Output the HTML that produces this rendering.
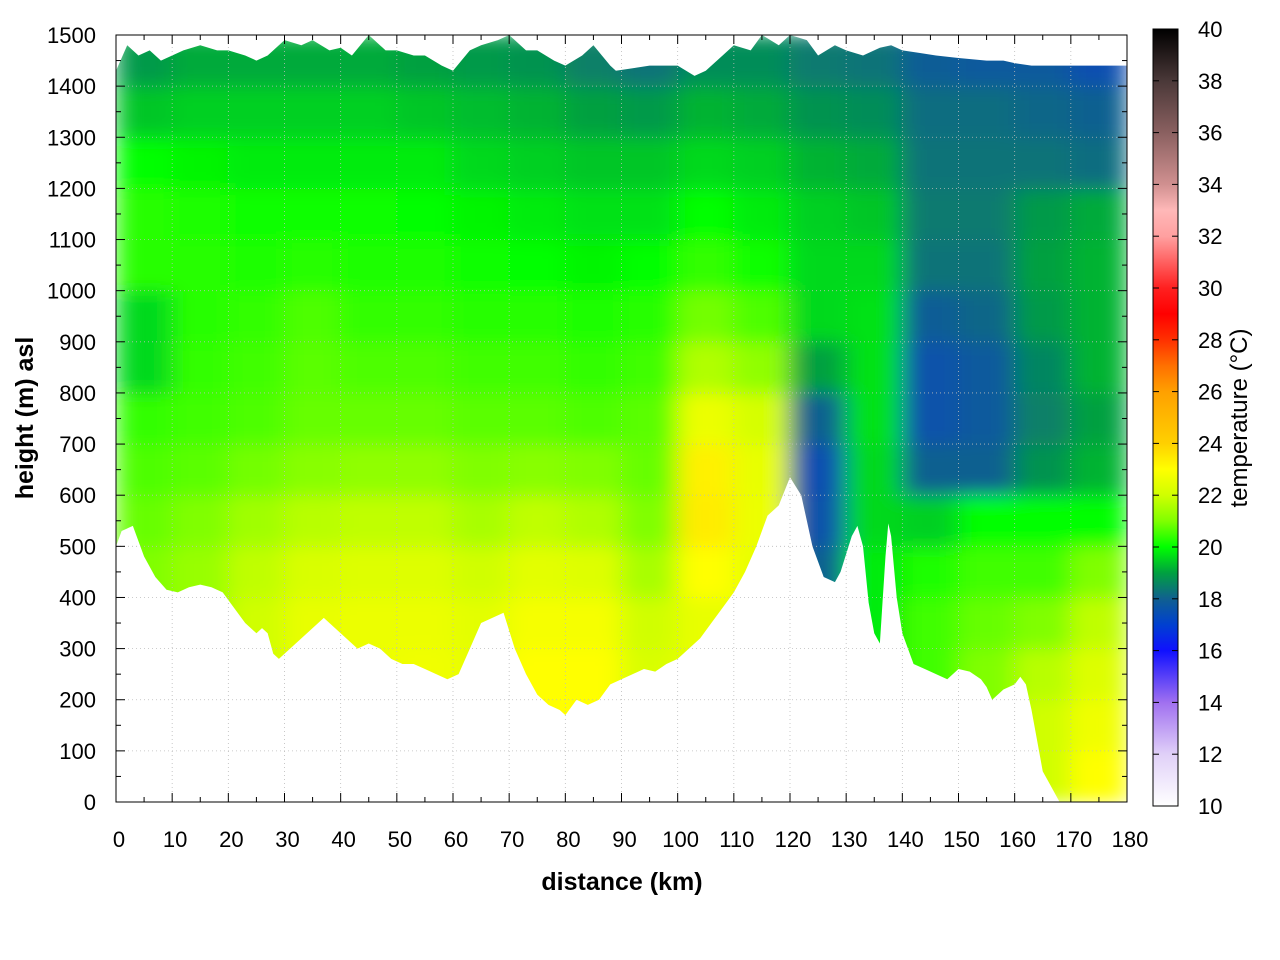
<!DOCTYPE html>
<html><head><meta charset="utf-8">
<style>
html,body{margin:0;padding:0;background:#fff;}
svg{display:block;font-family:"Liberation Sans",sans-serif;}
</style></head>
<body>
<svg id="chart" width="1280" height="960" viewBox="0 0 1280 960">
<defs>
<clipPath id="plotclip"><rect x="116" y="35" width="1011" height="767"/></clipPath>
<filter id="blur" filterUnits="userSpaceOnUse" x="116" y="35" width="1011" height="767">
<feGaussianBlur stdDeviation="12 9" edgeMode="duplicate"/>
</filter>
<linearGradient id="cbgrad" x1="0" y1="1" x2="0" y2="0"></linearGradient>
</defs>
<g id="heat" clip-path="url(#plotclip)"><g id="cells" filter="url(#blur)"></g></g>
<g id="masks" clip-path="url(#plotclip)"></g>
<g id="grid"></g>
<rect x="116" y="35" width="1011" height="767" fill="none" stroke="#000" stroke-width="1"/>
<g id="axes"></g>
<text x="622" y="890" text-anchor="middle" font-size="25" font-weight="bold">distance (km)</text>
<text transform="translate(33,418) rotate(-90)" text-anchor="middle" font-size="25" font-weight="bold">height (m) asl</text>
<rect x="1153" y="29" width="25" height="777" fill="url(#cbgrad)" stroke="#000" stroke-width="1"/>
<g id="cbaxis"></g>
<text transform="translate(1247,418) rotate(-90)" text-anchor="middle" font-size="24">temperature (°C)</text>
</svg>
<script>
// column centres (km) and row bottoms (m)
const colKm = [5,15,25,35,45,55,65,75,85,95,105,115,125,135,145,155,165,175];
const rowM = [0,100,200,300,400,500,600,700,800,900,1000,1100,1200,1300,1400];
// temperatures per column, rows bottom (0 m) to top (1400 m)
const temps = [
 [21,21,21,21,21,20.8,20.6,20.4,19.6,19.6,20.3,20.3,20,19.4,18.9],
 [21.3,21.3,21.3,21.3,21.3,21,20.7,20.5,20.4,20.3,20.3,20.2,19.9,19.5,19.1],
 [22,22,22,22,21.8,21.4,20.9,20.6,20.5,20.4,20.2,20.1,19.8,19.5,19.1],
 [22.6,22.6,22.6,22.5,22.2,21.7,21.1,20.8,20.7,20.6,20.3,20.1,19.8,19.5,19.1],
 [22.6,22.6,22.6,22.6,22.3,21.8,21.2,20.8,20.6,20.4,20.2,20.1,19.8,19.5,19.1],
 [22.7,22.7,22.7,22.6,22.3,21.8,21.2,20.8,20.6,20.4,20.2,20,19.8,19.4,19],
 [22.5,22.5,22.5,22.4,22,21.5,21,20.7,20.5,20.3,20.1,19.9,19.6,19.3,18.9],
 [23,23,23,22.8,22.4,21.8,21.1,20.7,20.5,20.3,20,19.8,19.5,19.2,18.8],
 [23,23,23,22.8,22.3,21.6,21,20.6,20.4,20.2,19.9,19.7,19.4,19,18.5],
 [22.2,22.2,22.2,22,21.5,21,20.8,20.7,20.5,20.3,20,19.7,19.4,18.9,18.3],
 [22.5,22.5,22.5,22.5,23,23.4,23.3,22.6,21.6,20.9,20.4,20,19.6,19.2,18.7],
 [22.5,22.5,22.5,22.5,22.5,22.6,22.5,22.1,21.2,20.6,20.1,19.8,19.5,19.1,18.7],
 [18,18,18,18,18,17.6,17.5,18,19,19.6,19.6,19.5,19.2,18.8,18.4],
 [19.8,19.8,19.8,19.8,19.8,19.6,19.6,19.7,19.7,19.7,19.6,19.4,19.1,18.7,18.3],
 [20.5,20.5,20.5,20.5,20.2,19.5,18,17.6,17.6,17.9,18.3,18.4,18.3,18.2,17.9],
 [21,21,21,20.8,20.5,20,18,17.8,17.8,18.1,18.3,18.4,18.3,18.2,17.8],
 [22,22,21.7,21,20.5,20,18.8,18.5,18.6,18.9,19,18.9,18.3,18.1,17.8],
 [23,22.7,22.3,21.8,21,20,19.2,19,19.2,19.2,19.2,19.1,18.2,18,17.5]
];
// terrain profile
const terrainKm = [0,1,3,5,7,9,11,13,15,17,19,21,23,25,26,27,28,29,31,33,35,37,39,41,43,45,47,49,51,53,55,57,59,61,63,65,67,69,71,73,75,77,79,80,82,84,86,88,90,92,94,96,98,100,102,104,106,108,110,112,114,116,118,120,122,124,126,128,129,131,132,133,134,135,136,137,137.5,138,139,140,142,144,146,148,150,152,154,155,156,157,158,160,161,162,163,164,165,166,168,180];
const terrainM = [500,530,540,480,440,415,410,420,425,420,410,380,350,330,340,330,290,280,300,320,340,360,340,320,300,310,300,280,270,270,260,250,240,250,300,350,360,370,300,250,210,190,180,170,200,190,200,230,240,250,260,255,270,280,300,320,350,380,410,450,500,560,580,635,600,500,440,430,450,520,540,500,390,330,310,480,545,520,400,330,270,260,250,240,260,255,240,225,200,210,220,230,245,230,180,120,60,40,0,0];
// upper data boundary
const topKm = [0,2,4,6,8,10,12,15,18,20,23,25,27,30,33,35,38,40,42,45,48,50,53,55,58,60,63,65,68,70,73,75,78,80,83,85,88,89,95,97,100,103,105,108,110,113,115,118,120,123,125,128,130,133,136,138,140,143,146,150,155,158,160,163,165,166,180];
const topM = [1430,1480,1460,1470,1450,1460,1470,1480,1470,1470,1460,1450,1460,1490,1480,1490,1470,1475,1460,1500,1470,1470,1460,1460,1440,1430,1470,1480,1490,1500,1470,1470,1450,1440,1460,1480,1440,1430,1440,1440,1440,1420,1430,1460,1480,1470,1500,1480,1500,1490,1460,1480,1470,1460,1475,1480,1470,1465,1460,1455,1450,1450,1445,1440,1440,1440,1440];
const xTicks = [0,10,20,30,40,50,60,70,80,90,100,110,120,130,140,150,160,170,180];
const yTicks = [0,100,200,300,400,500,600,700,800,900,1000,1100,1200,1300,1400,1500];
const cbTicks = [10,12,14,16,18,20,22,24,26,28,30,32,34,36,38,40];

const NS='http://www.w3.org/2000/svg';
const X0=116,X1=1127,Y0=802,Y1=35;
const xs = km => X0 + km/180*(X1-X0);
const ys = m => Y0 - m/1500*(Y0-Y1);
const cbY = t => 806 - (t-10)/30*777;
const palT=[10,12,14,16,17,18,19,20,21,22,23,24,26,27,28,29,30,31,32,33,34,36,38,40];
const palC=['#ffffff','#e0d0f8','#a070f0','#1010ff','#0040d0','#106090','#00a040','#00ff00','#80ff00','#d0ff00','#ffff00','#ffd000','#ffa000','#ff7000','#ff3000','#ff0000','#ff2020','#ff6060','#ffa0a0','#ffb8b8','#d09090','#8a6060','#4a3838','#000000'];
function hex(c){return [1,3,5].map(i=>parseInt(c.substr(i,2),16));}
function color(t){
 for(let i=0;i<palT.length-1;i++){ if(t<=palT[i+1]){ const f=Math.max(0,(t-palT[i])/(palT[i+1]-palT[i])); const a=hex(palC[i]),b=hex(palC[i+1]); return 'rgb('+a.map((v,k)=>Math.round(v+(b[k]-v)*f)).join(',')+')';}}
 return palC[palC.length-1];
}
function mk(tag,attrs,parent){const e=document.createElementNS(NS,tag);for(const k in attrs)e.setAttribute(k,attrs[k]);parent.appendChild(e);return e;}

const cells=document.getElementById('cells');
colKm.forEach((c,i)=>{
 rowM.forEach((r,j)=>{
  const x=xs(c-5), w=xs(c+5)-x, y=ys(r+100), h=ys(r)-y;
  const el=mk('rect',{x:x-0.5,y:y-0.5,width:w+1,height:h+1,fill:color(temps[i][j])},cells);
  
  
 });
});
const masks=document.getElementById('masks');
let d='M'+xs(0)+','+(Y0+5);
terrainKm.forEach((k,i)=>{d+=' L'+xs(k)+','+ys(terrainM[i]);});
d+=' L'+xs(180)+','+(Y0+5)+' Z';
const terr=mk('path',{d:d,fill:'#fff'},masks);


let d2='M'+xs(0)+','+(Y1-5);
topKm.forEach((k,i)=>{d2+=' L'+xs(k)+','+ys(topM[i]);});
d2+=' L'+xs(180)+','+(Y1-5)+' Z';
const topm=mk('path',{d:d2,fill:'#fff'},masks);



const grid=document.getElementById('grid'), axes=document.getElementById('axes');
xTicks.forEach(t=>{
 const x=xs(t);
 if(t>0&&t<180){const g=mk('line',{x1:x,y1:Y1,x2:x,y2:Y0,stroke:'#bbb','stroke-width':0.8,'stroke-dasharray':'1,3'},grid);}
 mk('line',{x1:x,y1:Y0,x2:x,y2:Y0-9,stroke:'#000'},axes);
 mk('line',{x1:x,y1:Y1,x2:x,y2:Y1+9,stroke:'#000'},axes);
 if(t<180){const xm=xs(t+5);mk('line',{x1:xm,y1:Y0,x2:xm,y2:Y0-5,stroke:'#000'},axes);mk('line',{x1:xm,y1:Y1,x2:xm,y2:Y1+5,stroke:'#000'},axes);}
 const lb=mk('text',{x:x+3,y:847,'text-anchor':'middle','font-size':22},axes);lb.textContent=t;
 
 
});
yTicks.forEach(t=>{
 const y=ys(t);
 if(t>0&&t<1500){const g=mk('line',{x1:X0,y1:y,x2:X1,y2:y,stroke:'#bbb','stroke-width':0.8,'stroke-dasharray':'1,3'},grid);}
 mk('line',{x1:X0,y1:y,x2:X0+9,y2:y,stroke:'#000'},axes);
 mk('line',{x1:X1,y1:y,x2:X1-9,y2:y,stroke:'#000'},axes);
 if(t<1500){const ym=ys(t+50);mk('line',{x1:X0,y1:ym,x2:X0+5,y2:ym,stroke:'#000'},axes);mk('line',{x1:X1,y1:ym,x2:X1-5,y2:ym,stroke:'#000'},axes);}
 const lb=mk('text',{x:96,y:y+8,'text-anchor':'end','font-size':22},axes);lb.textContent=t;
 
 
});
const grad=document.getElementById('cbgrad');
palT.forEach((t,i)=>{mk('stop',{offset:((t-10)/30).toFixed(4),'stop-color':palC[i]},grad);});
const cba=document.getElementById('cbaxis');
cbTicks.forEach(t=>{
 const y=cbY(t);
 mk('line',{x1:1153,y1:y,x2:1159,y2:y,stroke:'#000'},cba);
 mk('line',{x1:1178,y1:y,x2:1172,y2:y,stroke:'#000'},cba);
 const lb=mk('text',{x:1198,y:y+8,'font-size':22},cba);lb.textContent=t;
 
 
});
</script>
</body></html>
